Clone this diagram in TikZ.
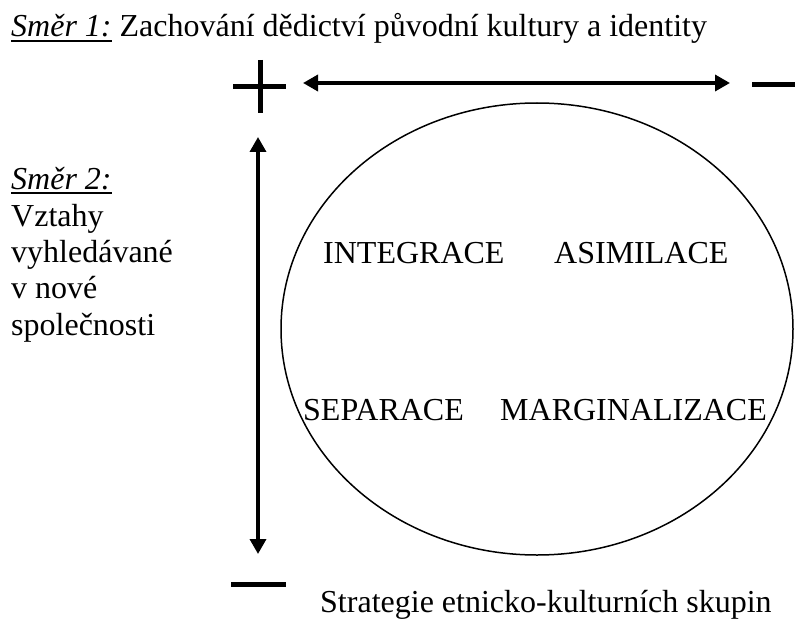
\documentclass[tikz,border=0pt]{standalone}
\usepackage{fontspec}
\setmainfont{Liberation Serif}
\usetikzlibrary{arrows.meta}

% underlined italic heading
\newcommand{\ulhead}[1]{\setbox0\hbox{\textit{#1}}\rlap{\rule[-5pt]{\wd0}{2pt}}\box0\relax}

\begin{document}
\begin{tikzpicture}[x=1pt, y=-1pt,
		font=\fontsize{32}{36.5}\selectfont,
		txt/.style={inner sep=0pt, anchor=base west},
		axisline/.style={line width=3.5pt, {Triangle[length=15pt,width=16pt]}-{Triangle[length=15pt,width=16pt]}},
		sign/.style={line width=5pt}]
		\useasboundingbox (0,0) rectangle (795,623);
		
		% Coordinates
		\coordinate (H_0) at (303, 83);
		\coordinate (H_1) at (730, 83);
		\coordinate (V_0) at (258, 137);
		\coordinate (V_1) at (258, 554);
		
		% Headings
		\node[txt] (dir1) at (11, 37) {\ulhead{Směr 1:} Zachování dědictví původní kultury a identity};
		\node[txt] (dir2) at (11, 189) {\ulhead{Směr 2:}};
		\foreach \y/\ytext [count=\i] in {226/Vztahy, 262/vyhledávané, 298/v nové, 335/společnosti}
			\node[txt] (dir2-\i) at (11, \y) {\ytext};
		
		% Signs
		\draw[sign] (233, 87) -- (286, 87);
		\draw[sign] (260, 60) -- (260, 113);
		\draw[sign] (752, 85) -- (795, 85);
		\draw[sign] (231, 584) -- (286, 584);
		
		% Axes
		\draw[axisline] (H_0) -- (H_1);
		\draw[axisline] (V_0) -- (V_1);
		
		% Strategies
		\draw[line width=1.5pt] (537, 329) ellipse [x radius=256pt, y radius=226pt];
		\node[txt] (integ) at (323, 263) {INTEGRACE};
		\node[txt] (asim) at (554, 263) {ASIMILACE};
		\node[txt] (sep) at (303, 420) {SEPARACE};
		\node[txt] (marg) at (500, 420) {MARGINALIZACE};
		\node[txt] (caption) at (320, 612) {Strategie etnicko-kulturních skupin};
	\end{tikzpicture}
\end{document}
